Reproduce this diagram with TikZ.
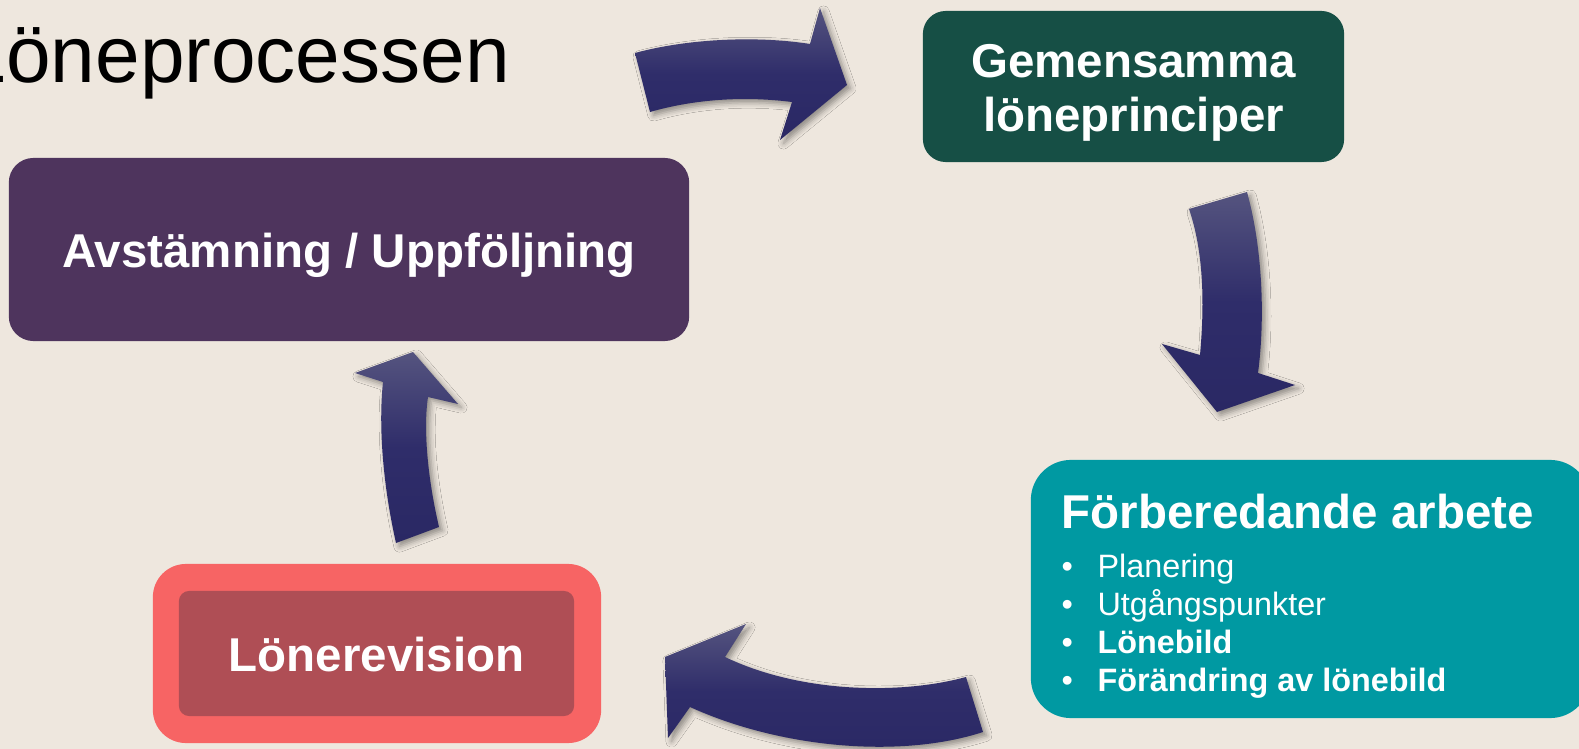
\documentclass[tikz,border=0pt]{standalone}
\usepackage{fontspec}
\setmainfont{Liberation Sans}
\usetikzlibrary{shadows.blur}
\definecolor{slidebg}{HTML}{EEE7DE}
\definecolor{stepgreen}{HTML}{164F45}
\definecolor{steppurple}{HTML}{4E345D}
\definecolor{stepteal}{HTML}{0099A2}
\definecolor{stepsalmon}{HTML}{F76464}
\definecolor{stepred}{HTML}{AF4E55}
\definecolor{arrowtop}{HTML}{55547F}
\definecolor{arrowmid}{HTML}{2F2D6A}
\definecolor{arrowbot}{HTML}{2A2864}
\tikzset{
  stepbox/.style={rectangle,rounded corners=#1,inner sep=0pt},
  stepbox/.default=6.5pt,
  steptext/.style={text=white,inner sep=0pt,
    font=\fontsize{13.5}{15.4}\selectfont\bfseries},
  bullettext/.style={text=white,inner sep=0pt,
    font=\fontsize{9.2}{10.9}\selectfont},
  blockarrow/.style={top color=arrowtop,bottom color=arrowbot,
    middle color=arrowmid,
    blur shadow={shadow xshift=1pt,shadow yshift=-1pt,
      shadow blur radius=1.6pt,shadow opacity=40}}
}

\begin{document}
\begin{tikzpicture}[x=0.01cm,y=-0.01cm]
  \useasboundingbox (0,0) rectangle (1579,749);
  \clip (0,0) rectangle (1579,749);
  \fill[slidebg] (0,0) rectangle (1579,749);
  % title, cut at the left edge
  \node[anchor=base west,inner sep=0pt,font=\fontsize{22.8}{27}\selectfont]
    (title) at (-39,83) {Löneprocessen};
  % boxes
  \node[stepbox,fill=stepgreen,minimum width=4.21cm,minimum height=1.51cm]
    (gemensamma) at (1133.5,86.5) {};
  \node[stepbox=7pt,fill=steppurple,minimum width=6.8cm,minimum height=1.83cm]
    (avstamning) at (349,249.5) {};
  \node[stepbox=11.4pt,fill=stepteal,minimum width=5.59cm,minimum height=2.58cm]
    (forberedande) at (1310.5,589) {};
  \node[stepbox=9.4pt,fill=stepsalmon,minimum width=4.48cm,minimum height=1.79cm]
    (lonerevision) at (377,653.5) {};
  \node[stepbox=2.9pt,fill=stepred,minimum width=3.95cm,minimum height=1.25cm]
    (lonerevision-inner) at (376.5,653.5) {};
  % texts
  \node[steptext,align=center] (gemensamma-text) at (1133.5,92.5)
    {Gemensamma\\löneprinciper};
  \node[steptext,anchor=base] (avstamning-text) at (349,268)
    {Avstämning / Uppföljning};
  \node[steptext,anchor=base] (lonerevision-text) at (376.5,671) {Lönerevision};
  \node[steptext,anchor=base west] (forberedande-text) at (1061,528)
    {Förberedande arbete};
  \node[bullettext,anchor=base west] (forberedande-list) at (1061,577)
    {\begin{tabular}[t]{@{}l@{\hspace{7pt}}l@{}}
      •&Planering\\
      •&Utgångspunkter\\
      •&\bfseries Lönebild\\
      •&\bfseries Förändring av lönebild
    \end{tabular}};
  % curved arrows
  \path[blockarrow] (635,53) .. controls (690,38) and (760,36) .. (810,44)
    -- (820,8) -- (847,85) -- (780,140) -- (792,102)
    .. controls (745,96) and (695,99) .. (650,112) -- cycle;
  \path[blockarrow] (1189,209) -- (1247,192)
    .. controls (1263,250) and (1265,320) .. (1258,373)
    -- (1295,385) -- (1217,412) -- (1162,344) -- (1200,355)
    .. controls (1205,300) and (1203,250) .. (1189,209) -- cycle;
  \path[blockarrow] (966,677) -- (983,732)
    .. controls (900,759) and (780,748) .. (690,707)
    -- (668,738) -- (665,657) -- (746,624) -- (725,657)
    .. controls (800,693) and (900,695) .. (966,677) -- cycle;
  \path[blockarrow] (396,543) -- (439,527)
    .. controls (428,480) and (423,430) .. (428,397)
    -- (458,404) -- (413,352) -- (355,373) -- (383,382)
    .. controls (378,430) and (384,490) .. (396,543) -- cycle;
\end{tikzpicture}
\end{document}
